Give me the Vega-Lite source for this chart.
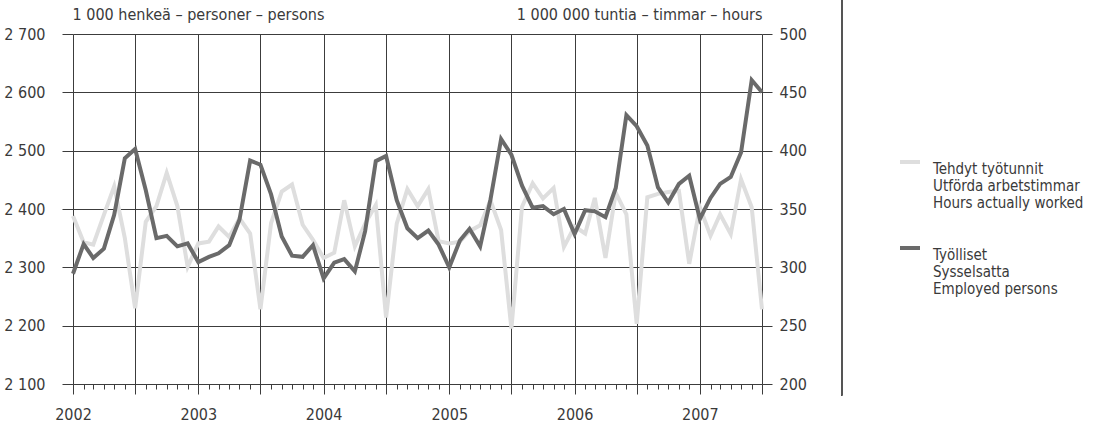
{
  "$schema": "https://vega.github.io/schema/vega-lite/v6.json",
  "width": 689,
  "height": 350,
  "autosize": {"type": "none"},
  "padding": {"left": 73, "top": 34, "right": 345, "bottom": 42},
  "background": "white",
  "config": {
    "font": "Liberation Sans Narrow, DejaVu Sans Condensed, Roboto, sans-serif",
    "view": {"stroke": null},
    "axis": {
      "labelFont": "Liberation Sans Narrow, DejaVu Sans Condensed, Roboto, sans-serif",
      "titleFont": "Liberation Sans Narrow, DejaVu Sans Condensed, Roboto, sans-serif",
      "labelColor": "#3a3a3a",
      "titleColor": "#3a3a3a",
      "labelFontSize": 16,
      "titleFontSize": 16,
      "titleFontWeight": "normal",
      "tickColor": "#3c3c3c",
      "gridColor": "#3c3c3c",
      "gridWidth": 1,
      "domainColor": "#3c3c3c"
    },
    "legend": {
      "labelFont": "Liberation Sans Narrow, DejaVu Sans Condensed, Roboto, sans-serif"
    }
  },
  "data": {
    "values": [
      {"date": "2002-01-01", "persons": 2289, "hours": 344},
      {"date": "2002-02-01", "persons": 2340, "hours": 321.5},
      {"date": "2002-03-01", "persons": 2316, "hours": 319.5},
      {"date": "2002-04-01", "persons": 2332, "hours": 345},
      {"date": "2002-05-01", "persons": 2390, "hours": 369.5},
      {"date": "2002-06-01", "persons": 2487, "hours": 325},
      {"date": "2002-07-01", "persons": 2503, "hours": 265},
      {"date": "2002-08-01", "persons": 2432, "hours": 339},
      {"date": "2002-09-01", "persons": 2350, "hours": 352.5},
      {"date": "2002-10-01", "persons": 2354, "hours": 381},
      {"date": "2002-11-01", "persons": 2336, "hours": 352.5},
      {"date": "2002-12-01", "persons": 2341, "hours": 300.5},
      {"date": "2003-01-01", "persons": 2309, "hours": 320.5},
      {"date": "2003-02-01", "persons": 2318, "hours": 322},
      {"date": "2003-03-01", "persons": 2324, "hours": 335},
      {"date": "2003-04-01", "persons": 2338, "hours": 326},
      {"date": "2003-05-01", "persons": 2382, "hours": 342},
      {"date": "2003-06-01", "persons": 2483, "hours": 329},
      {"date": "2003-07-01", "persons": 2476, "hours": 264},
      {"date": "2003-08-01", "persons": 2425, "hours": 338},
      {"date": "2003-09-01", "persons": 2353, "hours": 365},
      {"date": "2003-10-01", "persons": 2320, "hours": 371},
      {"date": "2003-11-01", "persons": 2318, "hours": 336.5},
      {"date": "2003-12-01", "persons": 2338, "hours": 323.5},
      {"date": "2004-01-01", "persons": 2281, "hours": 308},
      {"date": "2004-02-01", "persons": 2308, "hours": 312.5},
      {"date": "2004-03-01", "persons": 2314, "hours": 357.5},
      {"date": "2004-04-01", "persons": 2293, "hours": 318},
      {"date": "2004-05-01", "persons": 2362, "hours": 337.5},
      {"date": "2004-06-01", "persons": 2482, "hours": 353.5},
      {"date": "2004-07-01", "persons": 2491, "hours": 257},
      {"date": "2004-08-01", "persons": 2415, "hours": 337.5},
      {"date": "2004-09-01", "persons": 2367, "hours": 367},
      {"date": "2004-10-01", "persons": 2350, "hours": 352.5},
      {"date": "2004-11-01", "persons": 2363, "hours": 367},
      {"date": "2004-12-01", "persons": 2339, "hours": 322.5},
      {"date": "2005-01-01", "persons": 2300, "hours": 320.5},
      {"date": "2005-02-01", "persons": 2346, "hours": 322},
      {"date": "2005-03-01", "persons": 2366, "hours": 331},
      {"date": "2005-04-01", "persons": 2336, "hours": 336},
      {"date": "2005-05-01", "persons": 2416, "hours": 357.5},
      {"date": "2005-06-01", "persons": 2520, "hours": 332},
      {"date": "2005-07-01", "persons": 2493, "hours": 247.5},
      {"date": "2005-08-01", "persons": 2440, "hours": 352},
      {"date": "2005-09-01", "persons": 2402, "hours": 372},
      {"date": "2005-10-01", "persons": 2405, "hours": 359},
      {"date": "2005-11-01", "persons": 2391, "hours": 368},
      {"date": "2005-12-01", "persons": 2400, "hours": 317.5},
      {"date": "2006-01-01", "persons": 2357, "hours": 335},
      {"date": "2006-02-01", "persons": 2398, "hours": 329},
      {"date": "2006-03-01", "persons": 2396, "hours": 359.5},
      {"date": "2006-04-01", "persons": 2386, "hours": 308},
      {"date": "2006-05-01", "persons": 2436, "hours": 364},
      {"date": "2006-06-01", "persons": 2561, "hours": 345.5},
      {"date": "2006-07-01", "persons": 2542, "hours": 251.5},
      {"date": "2006-08-01", "persons": 2509, "hours": 360},
      {"date": "2006-09-01", "persons": 2437, "hours": 363},
      {"date": "2006-10-01", "persons": 2411, "hours": 364.5},
      {"date": "2006-11-01", "persons": 2443, "hours": 365.5},
      {"date": "2006-12-01", "persons": 2457, "hours": 303},
      {"date": "2007-01-01", "persons": 2383, "hours": 351.5},
      {"date": "2007-02-01", "persons": 2419, "hours": 327},
      {"date": "2007-03-01", "persons": 2443, "hours": 345.5},
      {"date": "2007-04-01", "persons": 2455, "hours": 328.5},
      {"date": "2007-05-01", "persons": 2497, "hours": 375.5},
      {"date": "2007-06-01", "persons": 2621, "hours": 351.5},
      {"date": "2007-07-01", "persons": 2600, "hours": 264}
    ]
  },
  "layer": [
    {
      "mark": {"type": "line", "strokeWidth": 4, "strokeJoin": "miter"},
      "encoding": {
        "x": {
          "field": "date",
          "type": "temporal",
          "scale": {
            "type": "utc",
            "domain": [
              {"year": 2002, "month": 1, "date": 1, "utc": true},
              {"year": 2007, "month": 7, "date": 1, "utc": true}
            ]
          },
          "axis": {
            "title": null,
            "tickCount": {"interval": "month", "step": 1},
            "labelExpr": "utcmonth(datum.value) == 0 ? utcFormat(datum.value, '%Y') : ''",
            "labelOverlap": false,
            "labelFlush": false,
            "labelPadding": 12,
            "grid": true,
            "gridOpacity": {"condition": {"test": "utcmonth(datum.value) % 6 == 0", "value": 1}, "value": 0},
            "tickSize": {"condition": {"test": "utcmonth(datum.value) % 6 == 0", "value": 10}, "value": 5},
            "domain": true
          }
        },
        "y": {
          "field": "hours",
          "type": "quantitative",
          "scale": {"domain": [200, 500], "zero": false, "nice": false},
          "axis": {
            "orient": "right",
            "values": [200, 250, 300, 350, 400, 450, 500],
            "grid": false,
            "domain": false,
            "tickSize": 10,
            "labelPadding": 7,
            "title": "1 000 000 tuntia – timmar – hours",
            "titleAngle": 0,
            "titleAlign": "right",
            "titleBaseline": "alphabetic",
            "titleX": 0,
            "titleY": -15
          }
        },
        "color": {
          "datum": "Tehdyt työtunnit|Utförda arbetstimmar|Hours actually worked",
          "type": "nominal",
          "scale": {
            "domain": [
              "Tehdyt työtunnit|Utförda arbetstimmar|Hours actually worked",
              "Työlliset|Sysselsatta|Employed persons"
            ],
            "range": ["#dedede", "#6a6a6a"]
          },
          "legend": {
            "orient": "none",
            "legendX": 825,
            "legendY": 116,
            "title": null,
            "symbolType": "stroke",
            "symbolSize": 400,
            "symbolStrokeWidth": 4,
            "labelExpr": "split(datum.label, '|')",
            "labelFontSize": 15,
            "labelColor": "#3a3a3a",
            "labelBaseline": "top",
            "labelOffset": 11,
            "labelLimit": 300,
            "rowPadding": 25
          }
        }
      }
    },
    {
      "mark": {"type": "line", "strokeWidth": 4, "strokeJoin": "miter"},
      "encoding": {
        "x": {"field": "date", "type": "temporal"},
        "y": {
          "field": "persons",
          "type": "quantitative",
          "scale": {"domain": [2100, 2700], "zero": false, "nice": false},
          "axis": {
            "orient": "left",
            "values": [2100, 2200, 2300, 2400, 2500, 2600, 2700],
            "labelExpr": "replace(format(datum.value, ','), ',', ' ')",
            "grid": true,
            "domain": false,
            "tickSize": 11,
            "labelPadding": 17,
            "title": "1 000 henkeä – personer – persons",
            "titleAngle": 0,
            "titleAlign": "left",
            "titleBaseline": "alphabetic",
            "titleX": -1,
            "titleY": -15
          }
        },
        "color": {
          "datum": "Työlliset|Sysselsatta|Employed persons",
          "type": "nominal"
        }
      }
    },
    {
      "mark": {"type": "rule", "color": "#555555", "strokeWidth": 1},
      "encoding": {
        "x": {"datum": {"year": 2008, "month": 2, "date": 18, "utc": true}, "type": "temporal"},
        "y": {"datum": 2760, "type": "quantitative", "scale": {"domain": [2100, 2700], "zero": false, "nice": false}, "axis": null},
        "y2": {"datum": 2081}
      }
    }
  ],
  "resolve": {"scale": {"y": "independent"}}
}
